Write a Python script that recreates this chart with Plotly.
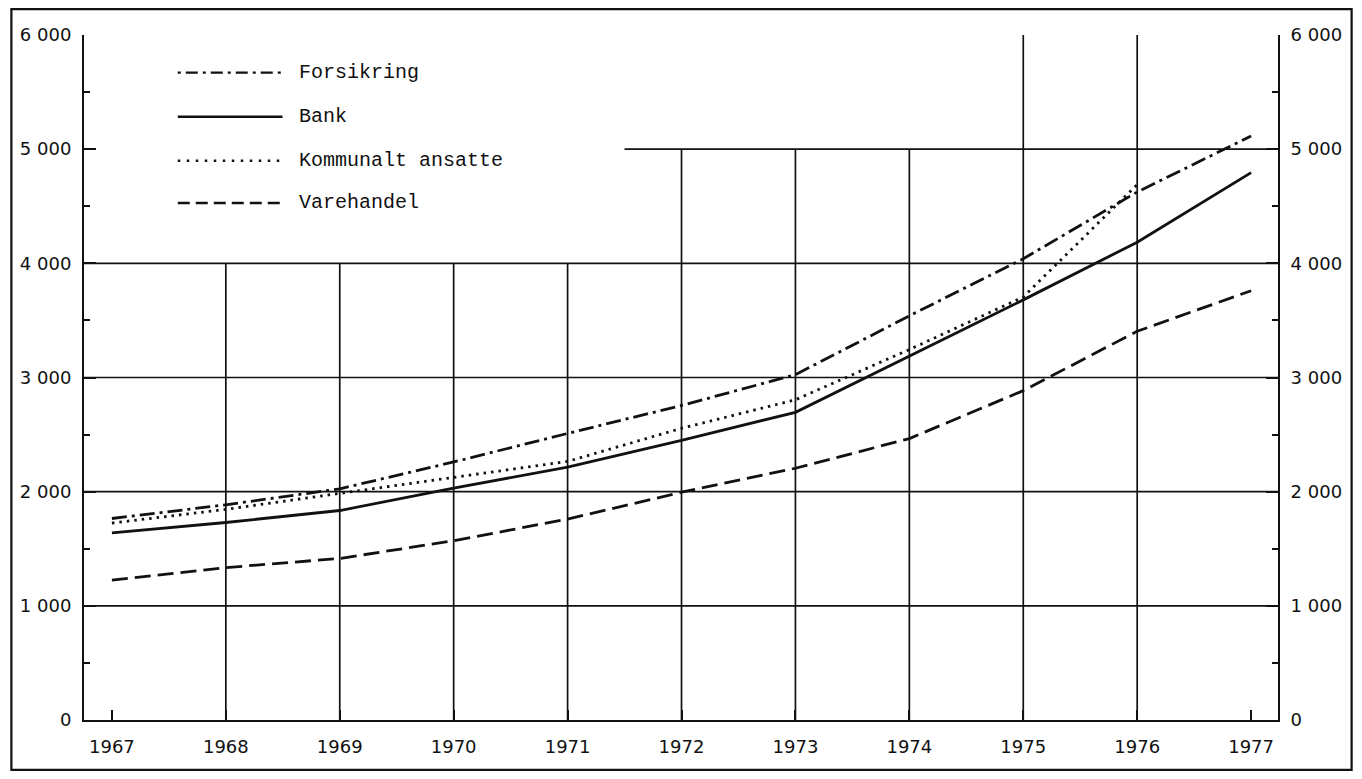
import plotly.graph_objects as go

years = [1967, 1968, 1969, 1970, 1971, 1972, 1973, 1974, 1975, 1976, 1977]
forsikring = [1765, 1885, 2025, 2260, 2510, 2755, 3025, 3540, 4040, 4625, 5115]
bank = [1640, 1730, 1835, 2030, 2215, 2450, 2695, 3190, 3680, 4185, 4795]
kommunalt = [1725, 1845, 1985, 2125, 2265, 2555, 2805, 3245, 3705, 4690, None]
varehandel = [1225, 1335, 1415, 1570, 1760, 1995, 2205, 2465, 2885, 3405, 3760]

series_names = ["Forsikring", "Bank", "Kommunalt ansatte", "Varehandel"]
series_values = [forsikring, bank, kommunalt, varehandel]
series_dash = ["15px,5px,3px,5px", "solid", "2.5px,5px", "16px,7px"]
legend_dash = ["3px,5px,12px,5px", "solid", "2.5px,6.5px", "12px,6px"]

y_ticks = [0, 1000, 2000, 3000, 4000, 5000, 6000]
y_labels = ["0", "1 000", "2 000", "3 000", "4 000", "5 000", "6 000"]

XMIN, XMAX = 1966.755, 1977.236
INK = "#111111"
LABEL_FONT = dict(family="DejaVu Sans, Liberation Sans, sans-serif", size=18, color=INK)
LEGEND_FONT = dict(family="Liberation Mono, DejaVu Sans Mono, monospace", size=20, color=INK)

# figure is placed 8px in from the page corner, so size/margins compensate
W, H = 1346, 763
ML, MT = 74, 27
MR, MB = W - 1271, H - 712
PW, PH = W - ML - MR, H - MT - MB

def px_to_paper_x(px):
    return (px - ML) / PW

def px_to_paper_y(py):
    return (H - MB - py) / PH

fig = go.Figure()
for name, vals, dash in zip(series_names, series_values, series_dash):
    fig.add_trace(go.Scatter(
        x=years, y=vals, mode="lines", name=name,
        line=dict(color=INK, width=2.8, dash=dash),
        connectgaps=False, showlegend=False, hoverinfo="x+y+name",
    ))
# dummy trace to materialise the right-hand axis
fig.add_trace(go.Scatter(x=[years[0]], y=[None], yaxis="y2", mode="lines",
                         showlegend=False, hoverinfo="skip"))

shapes = []
grid_style = dict(color=INK, width=1.7)
for yv in [1000, 2000, 3000, 4000]:
    shapes.append(dict(type="line", xref="x", yref="y", x0=XMIN, x1=XMAX, y0=yv, y1=yv,
                       line=grid_style, layer="below"))
shapes.append(dict(type="line", xref="x", yref="y", x0=1971.5, x1=XMAX, y0=5000, y1=5000,
                   line=grid_style, layer="below"))
v_tops = {1968: 4000, 1969: 4000, 1970: 4000, 1971: 4000,
          1972: 5000, 1973: 5000, 1974: 5000, 1975: 6000, 1976: 6000}
for xv, top in v_tops.items():
    shapes.append(dict(type="line", xref="x", yref="y", x0=xv, x1=xv, y0=0, y1=top,
                       line=grid_style, layer="below"))
# outer frame
shapes.append(dict(type="rect", xref="paper", yref="paper",
                   x0=px_to_paper_x(1.2), x1=px_to_paper_x(W - 1.2),
                   y0=px_to_paper_y(H - 1.2), y1=px_to_paper_y(1.2),
                   line=dict(color=INK, width=2.2), layer="above"))

# manual legend (figure pixel positions)
annotations = []
leg_y_px = [64.6, 108.7, 152.8, 195.0]
for name, dash, yy in zip(series_names, legend_dash, leg_y_px):
    py = px_to_paper_y(yy)
    shapes.append(dict(type="line", xref="paper", yref="paper",
                       x0=px_to_paper_x(168), x1=px_to_paper_x(273),
                       y0=py, y1=py, line=dict(color=INK, width=2.4, dash=dash)))
    annotations.append(dict(xref="paper", yref="paper", x=px_to_paper_x(288), y=py,
                            text=name, showarrow=False, xanchor="left",
                            yanchor="middle", font=LEGEND_FONT))

axis_common = dict(range=[0, 6000], tickvals=y_ticks, ticktext=y_labels,
                   ticks="inside", ticklen=12, tickwidth=2, tickcolor=INK,
                   showline=True, linecolor=INK, linewidth=2, showgrid=False,
                   zeroline=False, tickfont=LABEL_FONT, ticklabelstandoff=7,
                   minor=dict(dtick=500, ticks="inside", ticklen=6, tickwidth=2,
                              tickcolor=INK, showgrid=False),
                   fixedrange=True)

fig.update_layout(
    width=W, height=H,
    margin=dict(l=ML, r=MR, t=MT, b=MB),
    paper_bgcolor="white", plot_bgcolor="white",
    xaxis=dict(range=[XMIN, XMAX], tickvals=years, ticktext=[str(y) for y in years],
               ticks="inside", ticklen=10, tickwidth=2, tickcolor=INK,
               showline=True, linecolor=INK, linewidth=2, showgrid=False,
               zeroline=False, tickfont=LABEL_FONT, ticklabelstandoff=9,
               fixedrange=True),
    yaxis=dict(side="left", **axis_common),
    yaxis2=dict(side="right", overlaying="y", **axis_common),
    shapes=shapes,
    annotations=annotations,
    showlegend=False,
)

fig.write_html("out.html")
